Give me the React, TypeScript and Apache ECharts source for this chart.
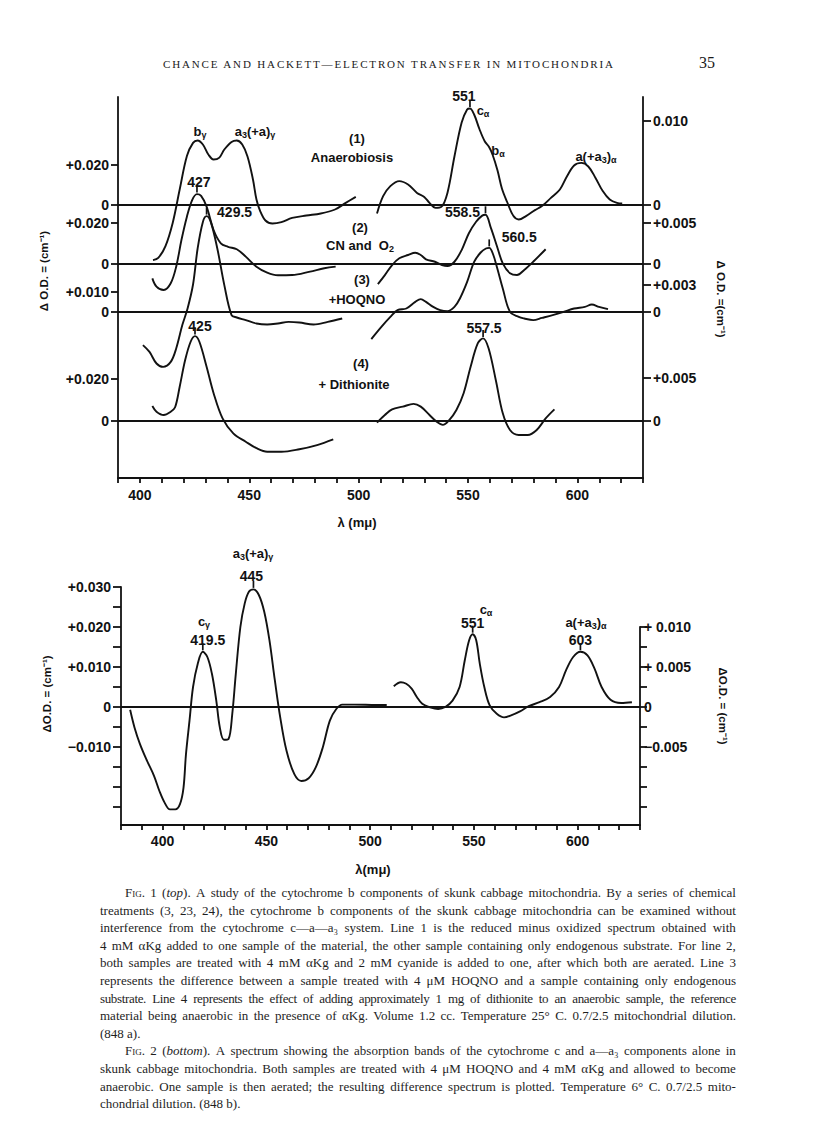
import React, { useEffect, useRef } from "react";
import * as echarts from "echarts";

// ================= DATA =================
// Fig. 1 — wavelength (mμ) vs ΔO.D. relative to each line's own baseline
const line1Anaerobiosis_a = [
  [406, -0.0278], [408.4, -0.0267], [411.7, -0.0208], [415, -0.0092], [418.2, 0.0075], [421.5, 0.0242],
  [424.3, 0.0308], [426.4, 0.032], [428.8, 0.030], [431.3, 0.025], [433.7, 0.0225], [436.2, 0.0233],
  [438.6, 0.0275], [441.9, 0.0313], [444.3, 0.032], [446.8, 0.030], [449.2, 0.024], [451.7, 0.0125],
  [453.3, 0.0025], [455, -0.0033], [457.4, -0.008], [460.6, -0.0095], [464.7, -0.0088], [469.6, -0.0067],
  [476.1, -0.0055], [482.7, -0.0045], [489.2, -0.0025], [494.1, 0.0008], [498.7, 0.0038],
];
const line1Anaerobiosis_b = [
  [508.4, -0.0045], [511.2, 0.0042], [514.5, 0.0092], [518.6, 0.0117], [522.6, 0.010], [526.7, 0.0058],
  [530, 0.0038], [532.4, 0.0008], [535.2, -0.0017], [537.8, -0.0012], [540.6, 0.0058], [543.8, 0.024],
  [547.1, 0.041], [549.6, 0.0475], [550.9, 0.048], [552.8, 0.045], [555.3, 0.0375], [557.7, 0.0315],
  [559.5, 0.029], [561.2, 0.025], [563.5, 0.017], [565.5, 0.008], [567.8, 0.0015], [570.8, -0.0058],
  [573.2, -0.0075], [576.5, -0.0058], [580.6, -0.0028], [583.8, -0.0008], [587.9, 0.0033], [592, 0.0075],
  [595.2, 0.014], [598.5, 0.0195], [601.8, 0.0208], [605, 0.019], [608.3, 0.0133], [611.6, 0.0067],
  [614.8, 0.0025], [618.1, 0.0008], [620.5, 0.0005],
];
const line2Cyanide_a = [
  [405.7, -0.007], [407.6, -0.011], [410.9, -0.0127], [414.1, -0.0094], [416.6, -0.0013], [419, 0.0117],
  [421.5, 0.0231], [423.9, 0.0312], [426.1, 0.0341], [428, 0.0332], [430.5, 0.028], [433.7, 0.0166],
  [437, 0.0101], [440.3, 0.0084], [444.3, 0.0072], [448.4, 0.0036], [453.3, -0.0013], [458.2, -0.0042],
  [463.1, -0.0055], [469.6, -0.0054], [477.8, -0.0037], [484.3, -0.0021], [489.5, -0.0013],
];
const line2Cyanide_b = [
  [508.8, -0.0098], [512, -0.0054], [515.3, -0.0005], [518.6, 0.0028], [522.6, 0.0044], [525.9, 0.0055],
  [528.4, 0.0044], [530.8, 0.0023], [534.9, 0.0011], [538.1, -0.0005], [540.6, -0.001], [543.8, 0.0011],
  [547.1, 0.0068], [550.4, 0.015], [553.7, 0.0206], [556.5, 0.0236], [558, 0.024], [560.5, 0.0175],
  [563.2, 0.0088], [565.9, 0.0003], [569.2, -0.0045], [572.4, -0.0054], [575.7, -0.0029], [579.8, 0.0011],
  [585.5, 0.0072],
];
const line3Hoqno_a = [
  [401.4, -0.0168], [404.4, -0.0202], [407.6, -0.026], [410.6, -0.0277], [414.1, -0.0252], [416.6, -0.0185],
  [419.4, -0.0068], [421.8, 0.0015], [424.3, 0.0135], [426.4, 0.0315], [428.8, 0.0448], [430.5, 0.0477],
  [432.4, 0.0448], [435.4, 0.0315], [438.6, 0.0132], [441.9, -0.0018], [444.3, -0.003], [448.4, -0.0043],
  [453.3, -0.006], [458.2, -0.0065], [463.1, -0.006], [468, -0.0052], [472.9, -0.0055], [479.4, -0.0065],
  [485.9, -0.0052], [492.5, -0.0035],
];
const line3Hoqno_b = [
  [505.8, -0.0138], [510.4, -0.0077], [514.5, -0.0027], [517.8, 0.0007], [521.8, 0.0015], [525.9, 0.0048],
  [528.4, 0.0062], [530.8, 0.0048], [534.1, 0.0023], [537.3, 0.0007], [540.6, 0.0002], [543.8, 0.0023],
  [546.3, 0.0065], [549.6, 0.0148], [552.8, 0.0248], [555.8, 0.0295], [558.2, 0.0315], [559.7, 0.0318],
  [561.5, 0.0285], [563.4, 0.0215], [565.9, 0.0115], [569.2, -0.0002], [573.2, -0.0027], [575.7, -0.0035],
  [579.8, -0.0043], [583.8, -0.0032], [588.7, -0.0018], [593.6, -0.0002], [598.5, 0.0015], [603.4, 0.0023],
  [606.6, 0.0035], [609.9, 0.0023], [614, 0.0012],
];
const line4Dithionite_a = [
  [405.7, 0.0069], [407.6, 0.0042], [410.9, 0.0026], [414.1, 0.0042], [416.1, 0.0063], [418.2, 0.0161],
  [420.7, 0.0288], [423.2, 0.0375], [425.2, 0.0402], [427.2, 0.0375], [430.5, 0.0256], [433.7, 0.013],
  [437.8, 0.001], [442.7, -0.0061], [448.4, -0.0101], [453.3, -0.0132], [458.2, -0.0149], [464.7, -0.0149],
  [472.9, -0.0137], [481, -0.0117], [488.4, -0.009],
];
const line4Dithionite_b = [
  [508.4, -0.001], [512, 0.0026], [515.3, 0.0053], [520.2, 0.0066], [525.1, 0.0079], [528.4, 0.0066],
  [532.4, 0.0026], [535.7, -0.0006], [538.5, -0.0021], [541.4, 0.0002], [544.7, 0.005], [548, 0.013],
  [551.2, 0.0256], [554.5, 0.0368], [556.9, 0.0391], [559.4, 0.0344], [562.7, 0.0193], [565.9, 0.0034],
  [569.2, -0.0045], [573.2, -0.0069], [577.3, -0.0069], [581.4, -0.0045], [585.5, 0.001], [589.5, 0.0053],
];

// Fig. 2 — difference spectrum
const fig2Spectrum_a = [
  [384.4, -0.0007], [386.5, -0.0051], [389.1, -0.0092], [392.5, -0.0134], [395.9, -0.0172], [398.5, -0.021],
  [401, -0.0239], [403.6, -0.0256], [406.2, -0.0256], [408.4, -0.0243], [410.1, -0.0202], [411.3, -0.0118],
  [413, -0.0034], [414.7, 0.005], [417, 0.0109], [419.4, 0.0138], [421.6, 0.0125], [423.8, 0.0083],
  [425.9, 0.0016], [427.6, -0.0051], [429.6, -0.0082], [431.8, -0.008], [433.6, -0.0017], [435.3, 0.0083],
  [437.5, 0.02], [439.6, 0.0259], [441.6, 0.0288], [443.8, 0.0294], [446.4, 0.028], [449, 0.0238],
  [451.5, 0.0167], [454.1, 0.0067], [456.7, -0.0026], [459.7, -0.0109], [463.5, -0.0168], [466.9, -0.0185],
  [470.4, -0.0178], [473.8, -0.0151], [477.2, -0.0101], [480.6, -0.0034], [483.7, -0.0005], [486.6, 0.0006],
  [492.6, 0.0006], [502.9, 0.0005], [508, 0.0005],
];
const fig2Spectrum_b = [
  [511.4, 0.0052], [514.8, 0.0062], [517.4, 0.0058], [520, 0.0046], [522.5, 0.0025], [525.1, 0.0008],
  [528.5, 0], [532.8, -0.0005], [536.2, 0], [539.7, 0.0016], [543.1, 0.005], [545.6, 0.0117],
  [547.7, 0.0167], [549.4, 0.0182], [551.1, 0.0167], [552.8, 0.0109], [555, 0.005], [557.6, 0.0004],
  [561, -0.0017], [564.5, -0.0026], [567.9, -0.0021], [572.2, -0.0011], [576.4, 0.0002], [581.6, 0.0012],
  [586.7, 0.0025], [591, 0.005], [594.4, 0.0092], [597.8, 0.0125], [601.3, 0.0138], [604.7, 0.0129],
  [608.1, 0.0096], [611.5, 0.005], [615.8, 0.0018], [620.9, 0.001], [626.1, 0.0012],
];

// peaks (wavelength, ΔO.D.) and their printed labels
const fig1Peaks = [
  [[550.9, 0.048]],
  [[426.1, 0.0341], [558, 0.024]],
  [[430.5, 0.0477], [559.7, 0.0318]],
  [[425.2, 0.0402], [556.9, 0.0391]],
];
const fig1PeakLabels = [["551"], ["427", "558.5"], ["429.5", "560.5"], ["425", "557.5"]];
const fig2Peaks = [[419.4, 0.0138], [443.8, 0.0294], [549.4, 0.0182], [601.3, 0.0138]];
const fig2PeakLabels = ["419.5", "445", "551", "603"];

// tick labels
const xTickLabels = [400, 450, 500, 550, 600];
const fig1LeftTicks = [[0, 0.02], [0, 0.02], [0, 0.01], [0, 0.02]];
const fig1LeftTickText = [["0", "+0.020"], ["0", "+0.020"], ["0", "+0.010"], ["0", "+0.020"]];
const fig1RightTicks = [[0, 0.01], [0, 0.005], [0, 0.003], [0, 0.005]];
const fig1RightTickText = [["0", "0.010"], ["0", "+0.005"], ["0", "+0.003"], ["0", "+0.005"]];
const fig2LeftLabelValues = [0.03, 0.02, 0.01, 0, -0.01];
const fig2LeftLabelText = ["+0.030", "+0.020", "+0.010", "0", "\u22120.010"];
const fig2LeftTickValues = [0.03, 0.025, 0.02, 0.015, 0.01, 0.005, 0, -0.005, -0.01, -0.015, -0.02, -0.025];
const fig2RightLabelValues = [0.01, 0.005, 0, -0.005];
const fig2RightLabelText = ["+ 0.010", "+ 0.005", "0", "\u22120.005"];
const fig2RightTickValues = [0.01, 0.0075, 0.005, 0.0025, 0, -0.0025, -0.005, -0.0075, -0.01, -0.0125];

// ================= LAYOUT / STYLE =================
const FONT = "'Liberation Sans', Arial, sans-serif";
const INK = "#121212";
const TOP = { left: 118, top: 97, right: 643, bottom: 478 };
const BOT = { left: 121, top: 587, right: 640, bottom: 825 };
const BOT_RIGHT_TOP = 627;
const BOT_ZERO_PX = 707;
const BOT_LEFT_SCALE = 4000;
const BOT_RIGHT_SCALE = 8000;
const fig1BaselinePx = [204.5, 264, 311.5, 420.5];
const fig1LeftScale = [2000, 2050, 2000, 2100];
const fig1RightScale = [8350, 8200, 8800, 8500];
const fig1PeakOffsets = [[[-6, 4]], [[2, 4], [-23, 14]], [[28, 12], [30, 6]], [[5, 6], [1, 6]]];
const fig2PeakOffsets = [[5, 5], [-2, 3], [0, 5], [0, 5]];

const sub = { fontSize: 9, fontWeight: "bold", fontFamily: FONT, fill: INK, padding: [7, 0, 0, 0] };
const annotations = [
  { t: "b{s|\u03b3}", x: 200, y: 131 },
  { t: "a{s|3}(+a){s|\u03b3}", x: 255, y: 131 },
  { t: "(1)", x: 357, y: 138 },
  { t: "Anaerobiosis", x: 352, y: 157 },
  { t: "c{s|\u03b1}", x: 483, y: 110 },
  { t: "b{s|\u03b1}", x: 498, y: 150 },
  { t: "a(+a{s|3}){s|\u03b1}", x: 596, y: 156 },
  { t: "(2)", x: 360, y: 227 },
  { t: "CN and  O{s|2}", x: 360, y: 245 },
  { t: "(3)", x: 362, y: 279 },
  { t: "+HOQNO", x: 357, y: 299 },
  { t: "(4)", x: 361, y: 363 },
  { t: "+ Dithionite", x: 354, y: 384 },
  { t: "\u03bb (m\u03bc)", x: 357, y: 522 },
  { t: "a{s|3}(+a){s|\u03b3}", x: 253, y: 553 },
  { t: "c{s|\u03b3}", x: 204, y: 621 },
  { t: "c{s|\u03b1}", x: 486, y: 609 },
  { t: "a(+a{s|3}){s|\u03b1}", x: 586, y: 622 },
  { t: "\u03bb(m\u03bc)", x: 373, y: 869 },
];
const axisNames = [
  { t: "\u0394 O.D. = (cm\u207b\u00b9)", x: 44, y: 271, r: Math.PI / 2 },
  { t: "\u0394 O.D. =(cm\u207b\u00b9)", x: 721, y: 299, r: -Math.PI / 2 },
  { t: "\u0394O.D. = (cm\u207b\u00b9)", x: 47, y: 694, r: Math.PI / 2 },
  { t: "\u0394O.D. = (cm\u207b\u00b9)", x: 723, y: 706, r: -Math.PI / 2 },
];

const captionLines: { text: string; indent?: boolean; last?: boolean; tight?: boolean }[] = [
  { text: "FIG. 1 (top). A study of the cytochrome b components of skunk cabbage mitochondria. By a series of chemical", indent: true },
  { text: "treatments (3, 23, 24), the cytochrome b components of the skunk cabbage mitochondria can be examined without" },
  { text: "interference from the cytochrome c\u2014a\u2014a\u2083 system. Line 1 is the reduced minus oxidized spectrum obtained with" },
  { text: "4 mM \u03b1Kg added to one sample of the material, the other sample containing only endogenous substrate. For line 2," },
  { text: "both samples are treated with 4 mM \u03b1Kg and 2 mM cyanide is added to one, after which both are aerated. Line 3" },
  { text: "represents the difference between a sample treated with 4 \u03bcM HOQNO and a sample containing only endogenous" },
  { text: "substrate. Line 4 represents the effect of adding approximately 1 mg of dithionite to an anaerobic sample, the reference", tight: true },
  { text: "material being anaerobic in the presence of \u03b1Kg. Volume 1.2 cc. Temperature 25\u00b0 C. 0.7/2.5 mitochondrial dilution." },
  { text: "(848 a).", last: true },
  { text: "FIG. 2 (bottom). A spectrum showing the absorption bands of the cytochrome c and a\u2014a\u2083 components alone in", indent: true },
  { text: "skunk cabbage mitochondria. Both samples are treated with 4 \u03bcM HOQNO and 4 mM \u03b1Kg and allowed to become" },
  { text: "anaerobic. One sample is then aerated; the resulting difference spectrum is plotted. Temperature 6\u00b0 C. 0.7/2.5 mito-" },
  { text: "chondrial dilution. (848 b).", last: true },
];

const lookup = (vals: number[], texts: string[]) => (v: number) => {
  const i = vals.findIndex((x) => Math.abs(x - v) < 1e-7);
  return i >= 0 ? texts[i] : "";
};

const axisLineStyle = { color: INK, width: 1.8 };
const labelFont = { fontFamily: FONT, fontWeight: "bold" as const, fontSize: 14, color: INK };

function buildOption() {
  const topH = TOP.bottom - TOP.top;
  const yAxis: any[] = [];
  for (let i = 0; i < 4; i++) {
    const yb = fig1BaselinePx[i];
    const s = fig1LeftScale[i];
    yAxis.push({
      type: "value", gridIndex: 0, position: "left",
      min: -(TOP.bottom - yb) / s, max: (yb - TOP.top) / s,
      axisLine: { show: i === 0, onZero: false, lineStyle: axisLineStyle },
      axisTick: { show: true, inside: false, length: 7, customValues: fig1LeftTicks[i], lineStyle: axisLineStyle },
      axisLabel: { ...labelFont, margin: 9, customValues: fig1LeftTicks[i], formatter: lookup(fig1LeftTicks[i], fig1LeftTickText[i]) },
      splitLine: { show: false },
    });
  }
  for (let i = 0; i < 4; i++) {
    const yb = fig1BaselinePx[i];
    const s = fig1RightScale[i];
    yAxis.push({
      type: "value", gridIndex: 0, position: "right",
      min: -(TOP.bottom - yb) / s, max: (yb - TOP.top) / s,
      axisLine: { show: i === 0, onZero: false, lineStyle: axisLineStyle },
      axisTick: { show: true, inside: false, length: 8, customValues: fig1RightTicks[i], lineStyle: axisLineStyle },
      axisLabel: { ...labelFont, margin: 10, customValues: fig1RightTicks[i], formatter: lookup(fig1RightTicks[i], fig1RightTickText[i]) },
      splitLine: { show: false },
    });
  }
  // Fig 2 left (index 8)
  yAxis.push({
    type: "value", gridIndex: 1, position: "left",
    min: -(BOT.bottom - BOT_ZERO_PX) / BOT_LEFT_SCALE, max: (BOT_ZERO_PX - BOT.top) / BOT_LEFT_SCALE,
    axisLine: { show: true, onZero: false, lineStyle: axisLineStyle },
    axisTick: { show: true, inside: false, length: 8, customValues: fig2LeftTickValues, lineStyle: axisLineStyle },
    axisLabel: { ...labelFont, margin: 10, customValues: fig2LeftLabelValues, formatter: lookup(fig2LeftLabelValues, fig2LeftLabelText) },
    splitLine: { show: false },
  });
  // Fig 2 right (index 9)
  yAxis.push({
    type: "value", gridIndex: 2, position: "right",
    min: -(BOT.bottom - BOT_ZERO_PX) / BOT_RIGHT_SCALE, max: (BOT_ZERO_PX - BOT_RIGHT_TOP) / BOT_RIGHT_SCALE,
    axisLine: { show: true, onZero: false, lineStyle: axisLineStyle },
    axisTick: { show: true, inside: false, length: 7, customValues: fig2RightTickValues, lineStyle: axisLineStyle },
    axisLabel: { ...labelFont, margin: 4, customValues: fig2RightLabelValues, formatter: lookup(fig2RightLabelValues, fig2RightLabelText) },
    splitLine: { show: false },
  });

  const xLabelFmt = (v: number) => (xTickLabels.indexOf(Math.round(v)) >= 0 ? String(Math.round(v)) : "");
  const xAxis: any[] = [
    {
      type: "value", gridIndex: 0, min: 390, max: 630, interval: 10,
      axisLine: { onZero: false, lineStyle: axisLineStyle },
      axisTick: { inside: false, length: 5, lineStyle: axisLineStyle },
      axisLabel: { ...labelFont, margin: 10, customValues: xTickLabels, formatter: xLabelFmt },
      splitLine: { show: false },
    },
    {
      type: "value", gridIndex: 1, min: 380, max: 630, interval: 10,
      axisLine: { onZero: false, lineStyle: axisLineStyle },
      axisTick: { inside: false, length: 5, lineStyle: axisLineStyle },
      axisLabel: { ...labelFont, margin: 9, customValues: xTickLabels, formatter: xLabelFmt },
      splitLine: { show: false },
    },
    { type: "value", gridIndex: 2, min: 380, max: 630, show: false },
  ];

  const lineSeries = (data: number[][], xi: number, yi: number, base: boolean) => ({
    type: "line", xAxisIndex: xi, yAxisIndex: yi, data, smooth: 0.35, symbol: "none", silent: true,
    lineStyle: { color: INK, width: 1.9 },
    markLine: base
      ? { silent: true, symbol: ["none", "none"], label: { show: false }, lineStyle: { color: INK, width: 1.8, type: "solid" }, data: [{ yAxis: 0 }] }
      : undefined,
  });

  const series: any[] = [];
  const fig1 = [
    [line1Anaerobiosis_a, line1Anaerobiosis_b],
    [line2Cyanide_a, line2Cyanide_b],
    [line3Hoqno_a, line3Hoqno_b],
    [line4Dithionite_a, line4Dithionite_b],
  ];
  fig1.forEach((segs, i) => {
    series.push(lineSeries(segs[0], 0, i, true));
    series.push(lineSeries(segs[1], 0, i, false));
  });
  series.push(lineSeries(fig2Spectrum_a, 1, 8, true));
  series.push(lineSeries(fig2Spectrum_b, 1, 8, false));

  const peakSeries = (pts: number[][], labels: string[], offsets: number[][], xi: number, yi: number) => ({
    type: "scatter", xAxisIndex: xi, yAxisIndex: yi, silent: true, z: 5,
    symbol: "rect", symbolSize: [1.7, 7], symbolOffset: [0, -5],
    itemStyle: { color: INK, opacity: 1 },
    data: pts.map((p, k) => ({
      value: p,
      label: {
        show: true, position: "top", distance: 1, offset: offsets[k], formatter: labels[k],
        ...labelFont, opacity: 1, textBorderWidth: 0,
      },
    })),
  });
  fig1Peaks.forEach((pts, i) => series.push(peakSeries(pts, fig1PeakLabels[i], fig1PeakOffsets[i], 0, i)));
  series.push(peakSeries(fig2Peaks, fig2PeakLabels, fig2PeakOffsets, 1, 8));

  const graphic: any[] = [
    ...annotations.map((a) => ({
      type: "text", x: a.x, y: a.y, silent: true,
      style: {
        text: a.t, fontFamily: FONT, fontWeight: "bold", fontSize: 13, fill: INK,
        align: "center", verticalAlign: "middle", rich: { s: sub },
      },
    })),
    ...axisNames.map((a) => ({
      type: "text", x: a.x, y: a.y, rotation: a.r, silent: true,
      style: { text: a.t, fontFamily: FONT, fontWeight: "bold", fontSize: 11.5, fill: INK, align: "center", verticalAlign: "middle" },
    })),
  ];

  return {
    animation: false,
    backgroundColor: "transparent",
    grid: [
      { left: TOP.left, top: TOP.top, width: TOP.right - TOP.left, height: topH, containLabel: false, outerBoundsMode: "none" },
      { left: BOT.left, top: BOT.top, width: BOT.right - BOT.left, height: BOT.bottom - BOT.top, containLabel: false, outerBoundsMode: "none" },
      { left: BOT.left, top: BOT_RIGHT_TOP, width: BOT.right - BOT.left, height: BOT.bottom - BOT_RIGHT_TOP, containLabel: false, outerBoundsMode: "none" },
    ],
    xAxis, yAxis, series, graphic,
  };
}

function renderWord(w: string, k: number) {
  if (w === "FIG.") return <span key={k} style={{ fontVariant: "small-caps" }}>Fig.</span>;
  const m = w.match(/^\((top|bottom)\)(.*)$/);
  if (m) return <span key={k}>(<i>{m[1]}</i>){m[2]}</span>;
  return <span key={k}>{w}</span>;
}

export default function App() {
  const ref = useRef<HTMLDivElement>(null);
  useEffect(() => {
    if (!ref.current) return;
    const chart = echarts.init(ref.current, undefined, { renderer: "svg" });
    chart.setOption(buildOption() as any);
    return () => chart.dispose();
  }, []);

  return (
    <div style={{ position: "absolute", left: 0, top: 0, width: 816, height: 1122, background: "#fff", overflow: "hidden" }}>
      <div ref={ref} style={{ position: "absolute", left: 0, top: 0, width: 816, height: 1122 }} />
      <div style={{ position: "absolute", left: 163, top: 58, fontFamily: "'Liberation Serif', serif", fontSize: 11, letterSpacing: 1.85, color: "#1a1a1a", whiteSpace: "nowrap" }}>
        CHANCE AND HACKETT—ELECTRON TRANSFER IN MITOCHONDRIA
      </div>
      <div style={{ position: "absolute", left: 699, top: 54, fontFamily: "'Liberation Serif', serif", fontSize: 16, color: "#1a1a1a" }}>35</div>
      <div style={{ position: "absolute", left: 100, top: 884, width: 636, fontFamily: "'Liberation Serif', serif", fontSize: 13, lineHeight: "17.6px", color: "#1e1e1e" }}>
        {captionLines.map((ln, i) => (
          <div key={i} style={ln.last
            ? { paddingLeft: ln.indent ? 25 : 0, whiteSpace: "nowrap" }
            : { display: "flex", justifyContent: "space-between", flexWrap: "nowrap", paddingLeft: ln.indent ? 25 : 0, whiteSpace: "nowrap", letterSpacing: ln.tight ? -0.35 : 0 }}>
            {ln.last ? ln.text : ln.text.split(" ").map((w, k) => renderWord(w, k))}
          </div>
        ))}
      </div>
    </div>
  );
}
